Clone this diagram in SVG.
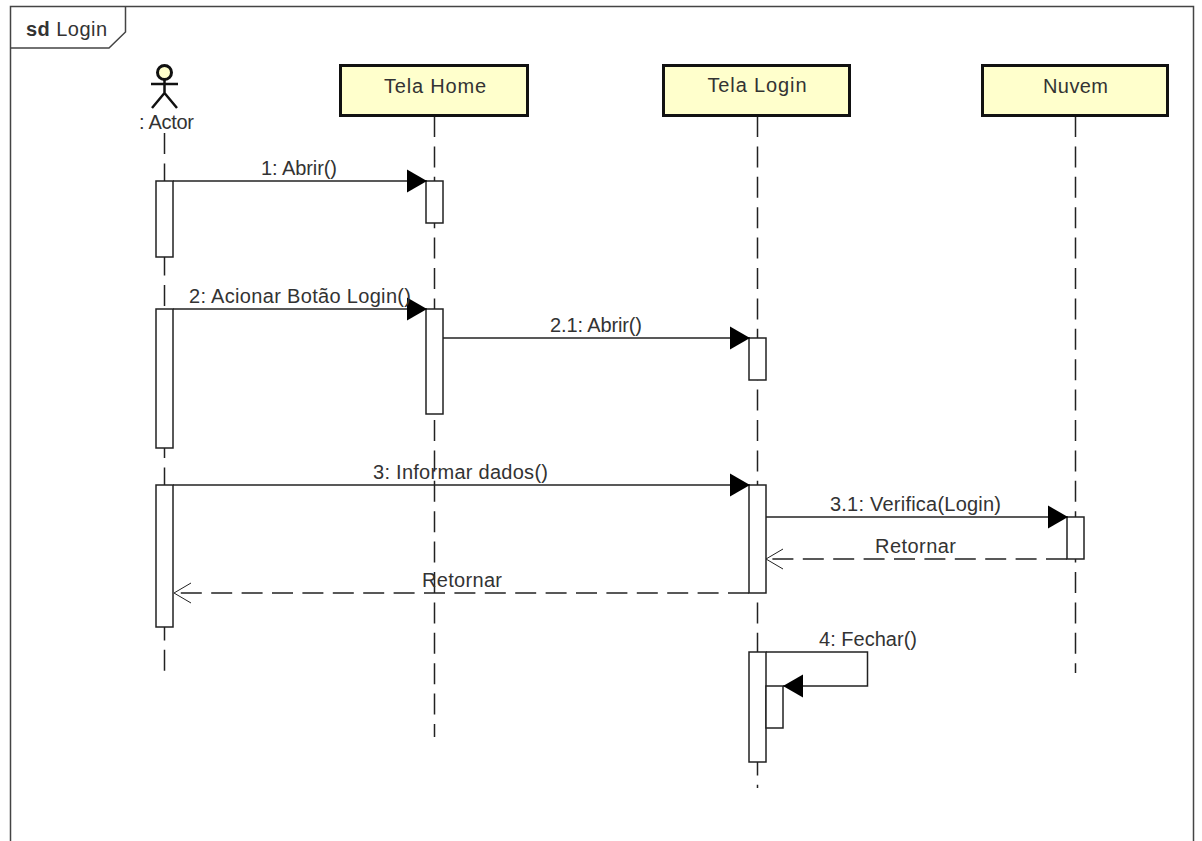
<svg xmlns="http://www.w3.org/2000/svg" width="1202" height="841" viewBox="0 0 1202 841">
<style>
text{font-family:"Liberation Sans",Arial,sans-serif;font-size:20px;fill:#333;text-anchor:middle}
.f{fill:none;stroke:#444;stroke-width:1.5}
.b{fill:#ffffcc;stroke:#111;stroke-width:3}
.a{fill:#fff;stroke:#222;stroke-width:1.5}
.l{fill:none;stroke:#222;stroke-width:1.5;stroke-dasharray:21 9.4}
.m{fill:none;stroke:#222;stroke-width:1.5}
.r{fill:none;stroke:#222;stroke-width:1.5;stroke-dasharray:21 9.4}
.o{fill:none;stroke:#222;stroke-width:1}
</style>
<defs>
<marker id="solid" markerUnits="userSpaceOnUse" markerWidth="22" markerHeight="25" refX="20" refY="12.5" orient="auto"><path d="M0 1L20 12.5L0 24Z" fill="#000"/></marker>
</defs>
<rect width="1202" height="841" fill="#fff"/>
<g id="frame">
<path class="f" d="M10.500 841V6.500H1193.500V841"/>
<path class="f" d="M10.500 48H109L125.500 32V6.500"/>
<text x="26" y="36" textLength="81" style="text-anchor:start"><tspan font-weight="bold">sd</tspan> Login</text>
</g>
<g id="lifelines">
<path class="l" d="M164.500 133V671"/>
<path class="l" d="M434.500 116V737"/>
<path class="l" d="M757.500 116V788"/>
<path class="l" d="M1075.500 116V673"/>
</g>
<g id="actor">
<circle cx="164.500" cy="72.500" r="7" fill="#ffffcc" stroke="#111" stroke-width="3"/>
<path d="M164.500 80V93M151 84H178M164.500 93L152 108M164.500 93L177 108" fill="none" stroke="#111" stroke-width="2.500"/>
<text x="166.500" y="129" textLength="55">: Actor</text>
</g>
<g id="tela-home"><rect class="b" x="340.500" y="65.500" width="187" height="50"/><text x="435" y="93" textLength="102">Tela Home</text></g>
<g id="tela-login"><rect class="b" x="663.500" y="65.500" width="186" height="50"/><text x="757" y="92" textLength="99">Tela Login</text></g>
<g id="nuvem"><rect class="b" x="982.500" y="65.500" width="185" height="50"/><text x="1075.500" y="93" textLength="65">Nuvem</text></g>
<g id="activations">
<rect class="a" x="156" y="181" width="17" height="76"/>
<rect class="a" x="426" y="181" width="17" height="42"/>
<rect class="a" x="156" y="309" width="17" height="139"/>
<rect class="a" x="426" y="309" width="17" height="105"/>
<rect class="a" x="749" y="338" width="17" height="42"/>
<rect class="a" x="156" y="485" width="17" height="142"/>
<rect class="a" x="749" y="485" width="17" height="108"/>
<rect class="a" x="1067" y="517" width="17" height="42"/>
<rect class="a" x="749" y="652" width="17" height="110"/>
<rect class="a" x="766" y="686" width="17" height="42"/>
</g>
<g id="connectors">
<path class="m" d="M173 181H427" marker-end="url(#solid)"/>
<path class="m" d="M173 309H427" marker-end="url(#solid)"/>
<path class="m" d="M443 338H750" marker-end="url(#solid)"/>
<path class="m" d="M173 485H750" marker-end="url(#solid)"/>
<path class="m" d="M766 517H1068" marker-end="url(#solid)"/>
<path class="r" d="M1067 559H767"/>
<path class="o" d="M783 549L766 559L783 569"/>
<path class="r" d="M749 593H174"/>
<path class="o" d="M191 583L174 593L191 603"/>
<path class="m" d="M766 652H867.500V686H783" marker-end="url(#solid)"/>
</g>
<g id="labels">
<text x="299" y="175" textLength="76">1: Abrir()</text>
<text x="300" y="303" textLength="222">2: Acionar Botão Login()</text>
<text x="596" y="332" textLength="92">2.1: Abrir()</text>
<text x="460.500" y="479" textLength="175">3: Informar dados()</text>
<text x="915.500" y="511" textLength="171">3.1: Verifica(Login)</text>
<text x="915.500" y="553" textLength="81">Retornar</text>
<text x="462" y="587" textLength="80">Retornar</text>
<text x="868" y="646" textLength="98">4: Fechar()</text>
</g>
</svg>
